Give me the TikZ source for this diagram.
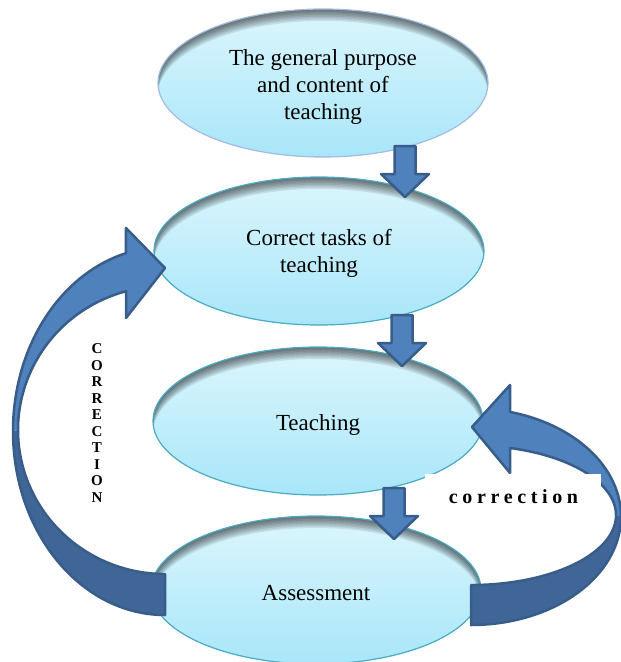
\documentclass[tikz,border=0pt]{standalone}
\usepackage{fontspec}
\setmainfont{Liberation Serif}
\usetikzlibrary{shapes.geometric}
\definecolor{arrowfill}{RGB}{79,129,189}
\definecolor{arrowdark}{RGB}{64,102,152}
\definecolor{arrowline}{RGB}{56,93,138}
\definecolor{elltop}{RGB}{220,246,253}
\definecolor{ellbot}{RGB}{168,230,249}
\definecolor{ellline}{RGB}{75,172,198}
\definecolor{ellline1}{RGB}{165,188,226}
\tikzset{
  stage/.style={ellipse, minimum width=330pt, minimum height=148pt, inner sep=0pt,
    draw=ellline, line width=1.2pt, top color=elltop, bottom color=ellbot,
    path picture={
      \foreach \d in {1.5,3,...,12}{
        \fill[black, opacity=0.085, even odd rule]
          (path picture bounding box.center) ellipse [x radius=165pt, y radius=74pt]
          ([yshift=-\d pt]path picture bounding box.center) ellipse [x radius=165pt, y radius=74pt];
      }
    }},
  stagetext/.style={align=center, inner sep=0pt, font=\fontsize{23}{27}\selectfont},
  blockarrow/.style={fill=arrowfill, draw=arrowline, line width=2.5pt, line join=round},
  arrowborder/.style={draw=arrowline, line width=2.5pt, line join=round},
  downarrow/.pic={
    \draw[blockarrow] (-10.5,1) -- (10.5,1) -- (10.5,29) -- (24,29) -- (0,52) -- (-24,29) -- (-10.5,29) -- cycle;
  },
}
\begin{document}
\begin{tikzpicture}[x=1pt,y=-1pt]
\useasboundingbox (0,0) rectangle (621,662);

% stages
\node[stage, draw=ellline1] (purpose) at (323,83) {};
\node[stage] (tasks) at (319,251) {};
\node[stage] (teach) at (318,421) {};
\node[stage] (assess) at (316,590) {};
\node[stagetext] (purposet) at ([yshift=-4pt]purpose.center) {The general purpose\\and content of\\teaching};
\node[stagetext] (taskst) at ([yshift=-2.5pt]tasks.center) {Correct tasks of\\teaching};
\node[stagetext] (teacht) at ([yshift=-3.5pt]teach.center) {Teaching};
\node[stagetext] (assesst) at ([yshift=-3.5pt]assess.center) {Assessment};

% straight block arrows
\pic at (405,145) {downarrow};
\pic at (402,314) {downarrow};
\pic at (394,487) {downarrow};

% left curved arrow (assessment -> correct tasks)
\fill[arrowdark] (165,615) arc[start angle=90, end angle=180, x radius=152, y radius=184]
  -- (18,430) arc[start angle=180, end angle=90, x radius=147, y radius=144] -- cycle;
\fill[arrowfill] (13,431) arc[start angle=180, end angle=255.1, x radius=152, y radius=184]
  -- (126,228) -- (165,268) -- (126,318) -- (126,291.2)
  arc[start angle=254.6, end angle=180, x radius=147, y radius=144] -- cycle;
\draw[arrowborder] (165,615) arc[start angle=90, end angle=255.1, x radius=152, y radius=184]
  -- (126,228) -- (165,268) -- (126,318) -- (126,291.2)
  arc[start angle=254.6, end angle=90, x radius=147, y radius=144] -- cycle;

% right curved arrow (assessment -> teaching)
\fill[arrowdark] (471,625) arc[start angle=90, end angle=0, x radius=150, y radius=108.4]
  -- (616,515.2) arc[start angle=0, end angle=90, x radius=145, y radius=69.8] -- cycle;
\fill[arrowfill] (621,516.6) arc[start angle=0, end angle=-74.93, x radius=150, y radius=108.4]
  -- (510,385) -- (472,427) -- (510,473) -- (510,448)
  arc[start angle=-74.4, end angle=0, x radius=145, y radius=69.8] -- cycle;
\draw[arrowborder] (471,625) arc[start angle=90, end angle=-74.93, x radius=150, y radius=108.4]
  -- (510,385) -- (472,427) -- (510,473) -- (510,448)
  arc[start angle=-74.4, end angle=90, x radius=145, y radius=69.8] -- cycle;

% labels
\fill[white] (425,474) rectangle (601,528);
\node[font=\bfseries\fontsize{20}{24}\selectfont, inner sep=0pt] (corr) at (513.5,497)
  {c\kern4.6pt o\kern4.6pt r\kern4.6pt r\kern4.6pt e\kern4.6pt c\kern4.6pt t\kern4.6pt i\kern4.6pt o\kern4.6pt n};
\node[font=\bfseries\fontsize{15}{16.5}\selectfont, align=center, inner sep=0pt] (vcorr) at (97,423)
  {C\\O\\R\\R\\E\\C\\T\\I\\O\\N};
\end{tikzpicture}
\end{document}
